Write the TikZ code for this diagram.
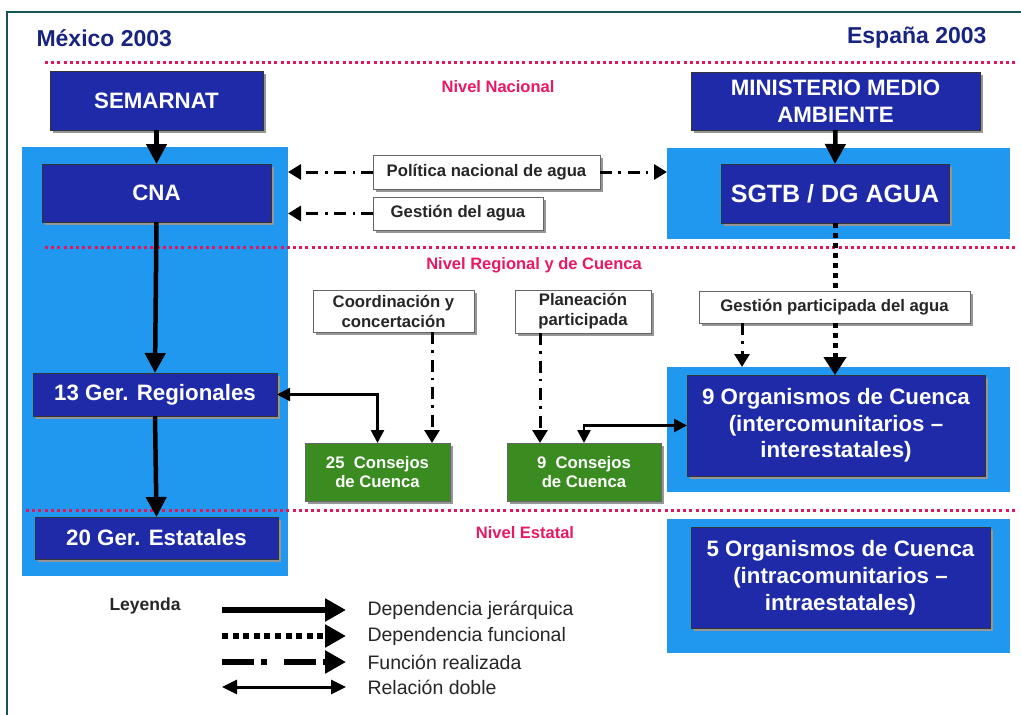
\documentclass[tikz,border=0pt]{standalone}
\usepackage{fontspec}
\setmainfont{Liberation Sans}
\usetikzlibrary{arrows.meta,calc,shadows}
\definecolor{dkblue}{RGB}{30,42,168}
\definecolor{ltblue}{RGB}{32,152,240}
\definecolor{grn}{RGB}{58,140,32}
\definecolor{pinkt}{RGB}{232,24,100}
\definecolor{reddot}{RGB}{226,22,92}
\definecolor{navy}{RGB}{24,36,130}
\definecolor{frameteal}{RGB}{22,84,88}
\definecolor{shadowgray}{RGB}{150,150,150}
\begin{document}
\begin{tikzpicture}[x=1pt,y=-1pt,
  shd/.style={drop shadow={shadow xshift=3pt,shadow yshift=-3pt,fill=shadowgray,opacity=1}},
  darkbox/.style={shd,fill=dkblue,draw=black!80,line width=0.8pt,inner sep=0pt,outer sep=0pt,
     text=white,font=\bfseries\fontsize{22.3}{27}\selectfont,align=center},
  whitebox/.style={shd,fill=white,draw=black!60,line width=0.8pt,inner sep=0pt,outer sep=0pt,
     text=black!85,font=\bfseries\fontsize{16.7}{20}\selectfont,align=center},
  greenbox/.style={shd,fill=grn,draw=black!60,line width=0.8pt,inner sep=0pt,outer sep=0pt,
     text=white,font=\bfseries\fontsize{16.7}{19}\selectfont,align=center},
  panel/.style={fill=ltblue,draw=none,inner sep=0pt,outer sep=0pt},
  level/.style={text=pinkt,font=\bfseries\fontsize{16.5}{18}\selectfont},
  redline/.style={draw=reddot,line width=3pt,dash pattern=on 3pt off 3.2pt},
  hier/.style={draw=black,line width=4.5pt,-{Triangle[width=20pt,length=20pt]}},
  func/.style={draw=black,line width=5pt,dash pattern=on 5pt off 5pt,-{Triangle[width=22pt,length=18pt]}},
  funcnohead/.style={draw=black,line width=5pt,dash pattern=on 5pt off 5pt},
  done/.style={draw=black,line width=3pt,dash pattern=on 12pt off 6pt on 2.5pt off 7pt,-{Triangle[width=15pt,length=13pt]}},
  dbl/.style={draw=black,line width=2.5pt,{Triangle[width=13pt,length=13pt]}-{Triangle[width=13pt,length=13pt]}},
  legtext/.style={anchor=west,text=black!85,font=\fontsize{19.5}{22}\selectfont}
]
\useasboundingbox (0,0) rectangle (1021,715);
\fill[white] (0,0) rectangle (1021,715);
% frame
\draw[frameteal,line width=2pt] (7,715) -- (7,12) -- (1021,12);
% titles
\node[anchor=west,text=navy,font=\bfseries\fontsize{23}{25}\selectfont] (mex) at (33,38) {México 2003};
\node[anchor=east,text=navy,font=\bfseries\fontsize{23}{25}\selectfont] (esp) at (990,38) {España 2003};
% panels
\node[panel,minimum width=266pt,minimum height=429pt] (lpanel) at (155,361.5) {};
\node[panel,minimum width=343pt,minimum height=91pt] (rp1) at (838.5,193.5) {};
\node[panel,minimum width=343pt,minimum height=125pt] (rp2) at (838.5,429.5) {};
\node[panel,minimum width=343pt,minimum height=134pt] (rp3) at (838.5,586) {};
% red dotted lines
\draw[redline] (45,62) -- (1018,62);
\draw[redline] (45,247) -- (1018,247);
\draw[redline] (26,510) -- (1018,510);
% level labels
\node[level] (nn) at (498,87) {Nivel Nacional};
\node[level] (nr) at (534,265) {Nivel Regional y de Cuenca};
\node[level] (ne) at (525,533) {Nivel Estatal};
% Mexico boxes
\node[darkbox,minimum width=213pt,minimum height=59pt] (sem) at (156.5,100.5) {SEMARNAT};
\node[darkbox,minimum width=229pt,minimum height=58pt] (cna) at (156.5,193) {CNA};
\node[darkbox,minimum width=244pt,minimum height=43pt] (greg) at (155,394.5) {13 Ger. Regionales};
\node[darkbox,minimum width=243pt,minimum height=42pt] (gest) at (156.5,538) {20 Ger. Estatales};
% Spain boxes
\node[darkbox,minimum width=289pt,minimum height=58pt] (min) at (835.5,101) {MINISTERIO MEDIO\\AMBIENTE};
\node[darkbox,minimum width=228pt,minimum height=59pt,font=\bfseries\fontsize{25}{28}\selectfont] (sgtb) at (835,193.5) {SGTB / DG AGUA};
\node[darkbox,minimum width=298pt,minimum height=101pt,font=\bfseries\fontsize{22.3}{26.5}\selectfont] (org9) at (836,425.5) {9 Organismos de Cuenca\\(intercomunitarios --\\interestatales)};
\node[darkbox,minimum width=299pt,minimum height=101pt,font=\bfseries\fontsize{22.3}{27}\selectfont] (org5) at (840.5,577.5) {5 Organismos de Cuenca\\(intracomunitarios --\\intraestatales)};
% white boxes
\node[whitebox,minimum width=227pt,minimum height=34pt] (pol) at (486.5,172) {Política nacional de agua};
\node[whitebox,minimum width=170pt,minimum height=33pt] (gag) at (458,213.5) {Gestión del agua};
\node[whitebox,minimum width=161pt,minimum height=42pt] (coo) at (393.5,311) {Coordinación y\\concertación};
\node[whitebox,minimum width=136pt,minimum height=43pt] (pla) at (583,311.5) {Planeación\\participada};
\node[whitebox,minimum width=271pt,minimum height=32pt] (gpa) at (834.5,307) {Gestión participada del agua};
% green boxes
\node[greenbox,minimum width=145pt,minimum height=58pt] (c25) at (377.5,472) {25\ \ Consejos\\de Cuenca};
\node[greenbox,minimum width=154pt,minimum height=58pt] (c9) at (584,472) {9\ \ Consejos\\de Cuenca};
% hierarchical arrows
\draw[hier] (sem.south) -- (cna.north);
\draw[hier] (cna.south) -- (greg.north);
\draw[hier] (greg.south) -- (gest.north);
\draw[hier] (min.south) -- (sgtb.north);
% functional
\draw[funcnohead] (sgtb.south) -- (gpa.north -| sgtb.south);
\draw[func] (gpa.south -| sgtb.south) -- (org9.north -| sgtb.south);
% function realized
\coordinate (xa) at (742,0);
\draw[done] (gpa.south -| xa) -- (rp2.north -| xa);
\draw[done] (pol.west) -- (lpanel.east |- pol.west);
\draw[done] (pol.east) -- (rp1.west |- pol.east);
\draw[done] (gag.west) -- (lpanel.east |- gag.west);
\coordinate (xb) at (432,0);
\draw[done] (coo.south -| xb) -- (c25.north -| xb);
\coordinate (xc) at (540,0);
\draw[done] (pla.south -| xc) -- (c9.north -| xc);
% double relations
\draw[dbl] (greg.east) -| (c25.north);
\draw[dbl] (c9.north) |- (org9.west);
% legend
\node[anchor=west,text=black!85,font=\bfseries\fontsize{17.5}{19}\selectfont] (ley) at (106,606) {Leyenda};
\coordinate (l1a) at (222,610); \coordinate (l1b) at (346,610);
\coordinate (l2a) at (222,636); \coordinate (l2b) at (346,636);
\coordinate (l3a) at (222,662); \coordinate (l3b) at (346,662);
\coordinate (l4a) at (222,687); \coordinate (l4b) at (346,687);
\draw[draw=black,line width=6pt,-{Triangle[width=22pt,length=21pt]}] (l1a) -- (l1b);
\draw[draw=black,line width=6pt,dash pattern=on 6pt off 4.6pt,-{Triangle[width=22pt,length=21pt]}] (l2a) -- (l2b);
\draw[draw=black,line width=6pt,dash pattern=on 32pt off 7pt on 6pt off 17pt,-{Triangle[width=22pt,length=21pt]}] (l3a) -- (l3b);
\draw[draw=black,line width=3pt,{Triangle[width=14pt,length=15pt]}-{Triangle[width=14pt,length=15pt]}] (l4a) -- (l4b);
\node[legtext] (t1) at (364,610) {Dependencia jerárquica};
\node[legtext] (t2) at (364,636) {Dependencia funcional};
\node[legtext] (t3) at (364,662) {Función realizada};
\node[legtext] (t4) at (364,687) {Relación doble};
\end{tikzpicture}
\end{document}
